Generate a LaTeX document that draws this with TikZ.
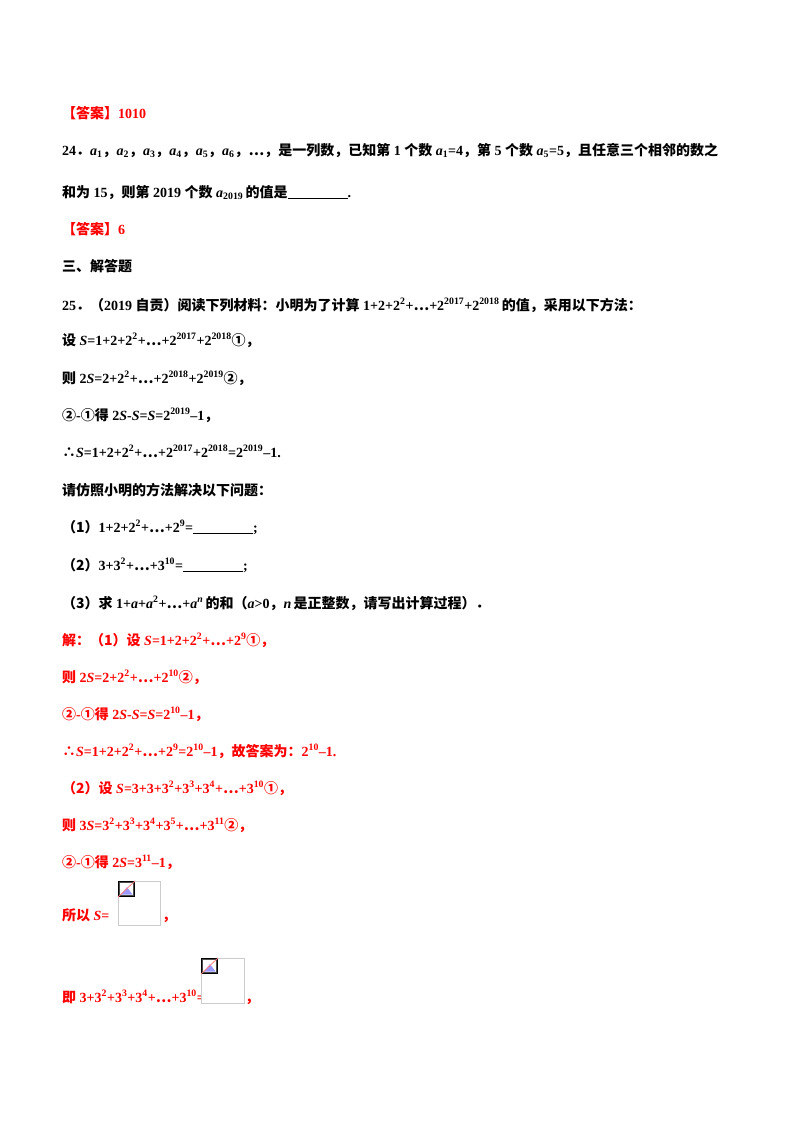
\documentclass[tikz,border=0pt]{standalone}
\usepackage{fontspec}
\setmainfont{Liberation Serif}[BoldFont=Liberation Serif Bold]
\newfontfamily\cjk{Noto Sans CJK SC}
\newcommand\zh[1]{{\cjk #1}}
\newcommand\su[1]{\textsuperscript{#1}}
\newcommand\sub[1]{\textsubscript{#1}}
\newcommand\vS{\textit{S}}
\newcommand\blank{\rule[-1.5pt]{60pt}{0.6pt}}
\begin{document}
\begin{tikzpicture}[x=1pt,y=-1pt,
  ln/.style={anchor=base west,inner sep=0pt,font=\fontsize{14}{14}\selectfont\bfseries},
  rd/.style={ln,text={rgb,255:red,255;green,0;blue,0}},
  imgbox/.style={draw=black!20,line width=0.8pt,fill=white}]
\useasboundingbox (0,0) rectangle (800,1132);
\node[rd] (l1) at (62,118) {\zh{【答案】}1010};
\node[ln] (l2) at (62,155) {24\zh{．}\textit{a}\sub{1}\zh{，}\textit{a}\sub{2}\zh{，}\textit{a}\sub{3}\zh{，}\textit{a}\sub{4}\zh{，}\textit{a}\sub{5}\zh{，}\textit{a}\sub{6}\zh{，…，是一列数，已知第} 1 \zh{个数} \textit{a}\sub{1}=4\zh{，第} 5 \zh{个数} \textit{a}\sub{5}=5\zh{，且任意三个相邻的数之}};
\node[ln] (l3) at (62,197) {\zh{和为} 15\zh{，则第} 2019 \zh{个数} \textit{a}\sub{2019}\,\zh{的值是}\blank.};
\node[rd] (l4) at (62,234) {\zh{【答案】}6};
\node[ln] (l5) at (62,271) {\zh{三、解答题}};
\node[ln] (l6) at (62,310) {25\zh{．（}2019 \zh{自贡）阅读下列材料：小明为了计算} 1+2+2\su{2}+\zh{…}+2\su{2017}+2\su{2018}\,\zh{的值，采用以下方法：}};
\node[ln] (l7) at (62,345) {\zh{设} \vS=1+2+2\su{2}+\zh{…}+2\su{2017}+2\su{2018}\zh{①，}};
\node[ln] (l8) at (62,383) {\zh{则} 2\vS=2+2\su{2}+\zh{…}+2\su{2018}+2\su{2019}\zh{②，}};
\node[ln] (l9) at (62,420) {\zh{②}-\zh{①得} 2\vS-\vS=\vS=2\su{2019}--1\zh{，}};
\node[ln] (l10) at (62,457) {\zh{∴}\vS=1+2+2\su{2}+\zh{…}+2\su{2017}+2\su{2018}=2\su{2019}--1.};
\node[ln] (l11) at (62,495) {\zh{请仿照小明的方法解决以下问题：}};
\node[ln] (l12) at (62,532) {\zh{（1）}1+2+2\su{2}+\zh{…}+2\su{9}=\blank;};
\node[ln] (l13) at (62,570) {\zh{（2）}3+3\su{2}+\zh{…}+3\su{10}=\blank;};
\node[ln] (l14) at (62,608) {\zh{（3）求} 1+\textit{a}+\textit{a}\su{2}+\zh{…}+\textit{a}\su{\textit{n}}\,\zh{的和（}\textit{a}>0\zh{，}\textit{n}\,\zh{是正整数，请写出计算过程）．}};
\node[rd] (s1) at (62,645) {\zh{解：（1）设} \vS=1+2+2\su{2}+\zh{…}+2\su{9}\zh{①，}};
\node[rd] (s2) at (62,682) {\zh{则} 2\vS=2+2\su{2}+\zh{…}+2\su{10}\zh{②，}};
\node[rd] (s3) at (62,719) {\zh{②}-\zh{①得} 2\vS-\vS=\vS=2\su{10}--1\zh{，}};
\node[rd] (s4) at (62,756) {\zh{∴}\vS=1+2+2\su{2}+\zh{…}+2\su{9}=2\su{10}--1\zh{，故答案为：}2\su{10}--1.};
\node[rd] (s5) at (62,793) {\zh{（2）设} \vS=3+3+3\su{2}+3\su{3}+3\su{4}+\zh{…}+3\su{10}\zh{①，}};
\node[rd] (s6) at (62,830) {\zh{则} 3\vS=3\su{2}+3\su{3}+3\su{4}+3\su{5}+\zh{…}+3\su{11}\zh{②，}};
\node[rd] (s7) at (62,867) {\zh{②}-\zh{①得} 2\vS=3\su{11}--1\zh{，}};
\node[rd] (s8) at (62,920) {\zh{所以} \vS=};
\draw[imgbox] (118,881) rectangle (160,925);
\draw[fill=black!70] (118.5,881.5) rectangle (134,896);
\fill[white] (120,883) rectangle (132.5,894.5);
\fill[blue!40] (121,894.5) -- (127,887) -- (132.5,894.5) -- cycle;
\draw[red!50,line width=0.8pt] (118,897) -- (135,881);
\node[rd] (s8b) at (162,920) {\zh{，}};
\node[rd] (s9) at (62,1002) {\zh{即} 3+3\su{2}+3\su{3}+3\su{4}+\zh{…}+3\su{10}=};
\draw[imgbox] (201,958) rectangle (244,1003);
\draw[fill=black!70] (201.5,958.5) rectangle (217,973);
\fill[white] (203,960) rectangle (215.5,971.5);
\fill[blue!40] (204,971.5) -- (210,964) -- (215.5,971.5) -- cycle;
\draw[red!50,line width=0.8pt] (201,974) -- (218,958);
\node[rd] (s9b) at (245,1002) {\zh{，}};
\end{tikzpicture}
\end{document}
